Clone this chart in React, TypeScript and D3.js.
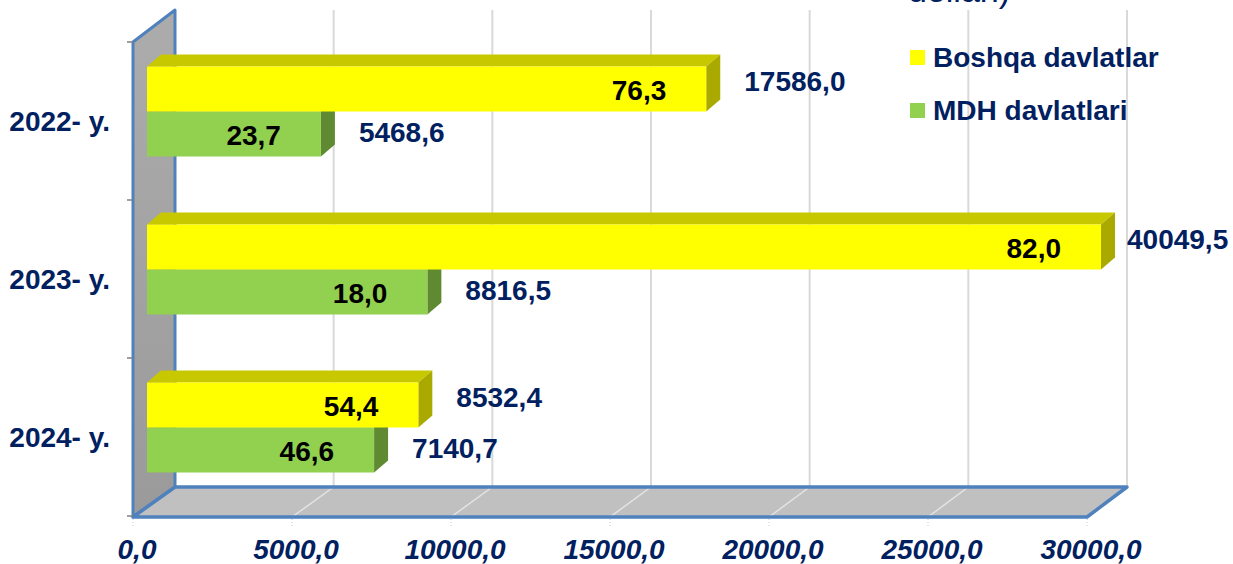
import { useEffect, useRef } from 'react';
import * as d3 from 'd3';

const categories = ['2022- y.', '2023- y.', '2024- y.'];
const seriesNames = ['Boshqa davlatlar', 'MDH davlatlari'];
const boshqaValues = [17586.0, 40049.5, 8532.4];
const mdhValues = [5468.6, 8816.5, 7140.7];
const boshqaShares = [76.3, 82.0, 54.4];
const mdhShares = [23.7, 18.0, 46.6];
const xTicks = [0, 5000, 10000, 15000, 20000, 25000, 30000];
const unitLines = ['(mln. AQSH', 'dollari)'];

const W = 1233;
const H = 564;
const NAVY = '#002060';
const BLUE = '#4f81bd';
const FONT = '"Liberation Sans", Arial, sans-serif';

const fmt = (v: number) => v.toFixed(1).replace('.', ',');

interface Series {
  name: string;
  values: number[];
  shares: number[];
  front: string;
  top: string;
  side: string;
  labelDy: number;
}

const series: Series[] = [
  { name: seriesNames[0], values: boshqaValues, shares: boshqaShares, front: '#ffff00', top: '#c8c800', side: '#a9a900', labelDy: -8 },
  { name: seriesNames[1], values: mdhValues, shares: mdhShares, front: '#92d050', top: '#6e9c3c', side: '#5f8a32', labelDy: -2 },
];

export default function App() {
  const svgRef = useRef<SVGSVGElement>(null);

  useEffect(() => {
    document.body.style.margin = '0';
    if (!svgRef.current) return;
    const svg = d3.select(svgRef.current);
    svg.selectAll('*').remove();

    const maxV = 30000;
    const xFront = d3.scaleLinear().domain([0, maxV]).range([133, 1087]);
    const xBack = d3.scaleLinear().domain([0, maxV]).range([175, 1127]);
    const xBar = d3.scaleLinear().domain([0, maxV]).range([147, 1101]).clamp(true);
    const yBand = d3.scaleBand<string>().domain(categories).range([42, 516]);
    const wallTop = 10;
    const floorBack = 487;
    const floorFront = 517;
    const barH = 45;
    const barOffset = 24.5;
    const ddx = 14;
    const ddy = -12;

    const defs = svg.append('defs');
    const grad = defs.append('linearGradient').attr('id', 'wallGrad')
      .attr('x1', 0).attr('y1', 0).attr('x2', 0).attr('y2', 1);
    grad.append('stop').attr('offset', '0%').attr('stop-color', '#acacac');
    grad.append('stop').attr('offset', '100%').attr('stop-color', '#9a9a9a');

    // back wall gridlines
    svg.append('g').selectAll('line').data(xTicks.slice(1)).join('line')
      .attr('x1', d => xBack(d)).attr('x2', d => xBack(d))
      .attr('y1', wallTop).attr('y2', floorBack)
      .attr('stroke', '#d9d9d9').attr('stroke-width', 2);

    // left wall
    const wallPts: [number, number][] = [
      [xFront(0), 42], [xBack(0), wallTop], [xBack(0), floorBack], [xFront(0), floorFront],
    ];
    svg.append('polygon').attr('points', wallPts.map(p => p.join(',')).join(' '))
      .attr('fill', 'url(#wallGrad)').attr('stroke', BLUE).attr('stroke-width', 3)
      .attr('stroke-linejoin', 'round');

    // floor
    const floorPts: [number, number][] = [
      [xBack(0), floorBack], [xBack(maxV), floorBack], [xFront(maxV), floorFront], [xFront(0), floorFront],
    ];
    svg.append('polygon').attr('points', floorPts.map(p => p.join(',')).join(' '))
      .attr('fill', '#c0c0c0');
    svg.append('g').selectAll('line').data(xTicks.slice(1, -1)).join('line')
      .attr('x1', d => xBack(d)).attr('y1', floorBack)
      .attr('x2', d => xFront(d)).attr('y2', floorFront)
      .attr('stroke', '#e4e4e4').attr('stroke-width', 1.5);
    svg.append('polygon').attr('points', floorPts.map(p => p.join(',')).join(' '))
      .attr('fill', 'none').attr('stroke', BLUE).attr('stroke-width', 3.5)
      .attr('stroke-linejoin', 'round');

    // axis ticks
    svg.append('g').selectAll('line').data([...categories.map(c => yBand(c) as number), 516]).join('line')
      .attr('x1', 127).attr('x2', xFront(0)).attr('y1', d => d).attr('y2', d => d)
      .attr('stroke', '#808080').attr('stroke-width', 1.5);
    svg.append('g').selectAll('line').data(xTicks).join('line')
      .attr('x1', d => xFront(d)).attr('x2', d => xFront(d))
      .attr('y1', floorFront + 2).attr('y2', floorFront + 10)
      .attr('stroke', '#b8cce4').attr('stroke-width', 1).attr('stroke-dasharray', '1,2');

    // bars
    const bars = svg.append('g');
    categories.forEach((cat, ci) => {
      const y0 = (yBand(cat) as number) + barOffset;
      // draw lower series first so upper one covers its top face
      [1, 0].forEach(si => {
        const s = series[si];
        const y = y0 + si * barH;
        const x0 = xBar(0);
        const x1 = xBar(s.values[ci]);
        const g = bars.append('g');
        g.append('polygon')
          .attr('points', [[x0, y], [x0 + ddx, y + ddy], [x1 + ddx, y + ddy], [x1, y]].map(p => p.join(',')).join(' '))
          .attr('fill', s.top);
        g.append('polygon')
          .attr('points', [[x1, y], [x1 + ddx, y + ddy], [x1 + ddx, y + barH + ddy], [x1, y + barH]].map(p => p.join(',')).join(' '))
          .attr('fill', s.side);
        g.append('rect').attr('x', x0).attr('y', y).attr('width', x1 - x0).attr('height', barH)
          .attr('fill', s.front);
      });
      series.forEach((s, si) => {
        const y = y0 + si * barH;
        const x1 = xBar(s.values[ci]);
        const clipped = s.values[ci] > maxV;
        bars.append('text')
          .attr('x', x1 - 40).attr('y', y + barH / 2 + 1)
          .attr('text-anchor', 'end').attr('dominant-baseline', 'central')
          .attr('font-family', FONT).attr('font-weight', 'bold').attr('font-size', 28)
          .attr('fill', '#000').text(fmt(s.shares[ci]));
        bars.append('text')
          .attr('x', x1 + ddx + (clipped ? 12 : 24)).attr('y', y + barH / 2 + s.labelDy)
          .attr('dominant-baseline', 'central')
          .attr('font-family', FONT).attr('font-weight', 'bold').attr('font-size', 28)
          .attr('fill', NAVY).text(fmt(s.values[ci]));
      });
    });

    // category labels
    svg.append('g').selectAll('text').data(categories).join('text')
      .attr('x', 110).attr('y', d => (yBand(d) as number) + yBand.bandwidth() / 2)
      .attr('text-anchor', 'end').attr('dominant-baseline', 'central')
      .attr('font-family', FONT).attr('font-weight', 'bold').attr('font-size', 28)
      .attr('fill', NAVY).text(d => d);

    // x tick labels
    svg.append('g').selectAll('text').data(xTicks).join('text')
      .attr('x', d => xFront(d) + 4).attr('y', 559)
      .attr('text-anchor', 'middle')
      .attr('font-family', FONT).attr('font-weight', 'bold').attr('font-style', 'italic')
      .attr('font-size', 28).attr('fill', NAVY).text(d => fmt(d));

    // legend
    const legend = svg.append('g').attr('transform', 'translate(910,50)');
    series.forEach((s, i) => {
      legend.append('rect').attr('x', 0).attr('y', i * 53).attr('width', 15).attr('height', 15)
        .attr('fill', s.front);
      legend.append('text').attr('x', 23).attr('y', i * 53 + 17)
        .attr('font-family', FONT).attr('font-weight', 'bold').attr('font-size', 28)
        .attr('fill', NAVY).text(s.name);
    });

    // unit caption, mostly above the visible area
    svg.append('g').selectAll('text').data(unitLines).join('text')
      .attr('x', 908).attr('y', (_, i) => 2 - (unitLines.length - 1 - i) * 38)
      .attr('font-family', FONT).attr('font-size', 34)
      .attr('fill', NAVY).text(d => d);
  }, []);

  return <svg ref={svgRef} width={W} height={H} style={{ display: 'block', background: '#fff' }} />;
}
